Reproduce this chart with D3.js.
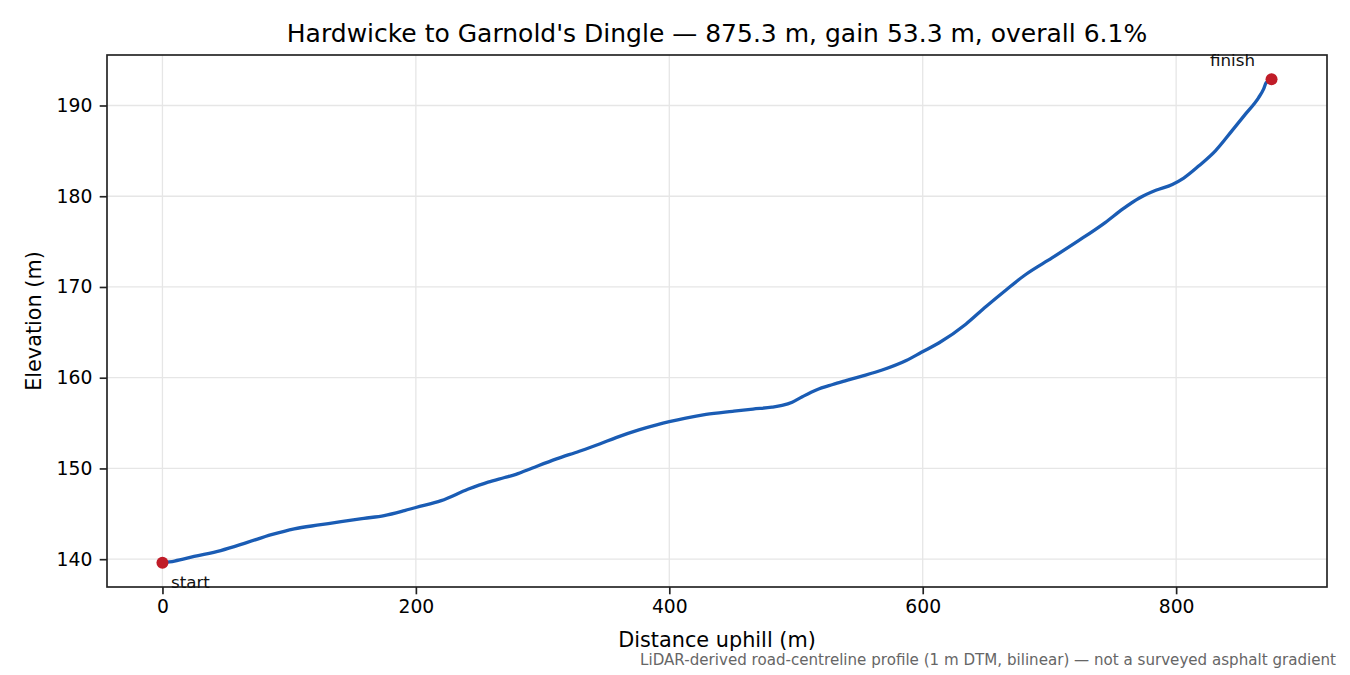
<!DOCTYPE html>
<html>
<head>
    <meta charset="utf-8">
    <script src="https://d3js.org/d3.v7.min.js"></script>
    <style>
        body { margin: 0; background: #fff; }
        text { font-family: "DejaVu Sans", sans-serif; }
    </style>
</head>
<body>
    <div class="chart"></div>

    <script>
        // distance along the road (m) and elevation (m)
        const distance = [0, 9.5, 25, 46, 67, 86, 104, 125, 141, 159, 175, 191, 200, 220, 241, 257, 270, 279,
            292, 311, 329, 345, 358, 376, 390, 400, 413, 429, 450, 466, 481, 489, 497, 505, 516, 529, 540,
            550, 568, 587, 599, 613, 634, 650, 666, 681, 702, 723, 744, 758, 771, 784, 797, 806, 818, 831,
            844, 855, 865, 869, 871, 875.3];
        const elevation = [139.6, 139.8, 140.3, 140.95, 141.85, 142.7, 143.35, 143.8, 144.15, 144.5, 144.8,
            145.35, 145.7, 146.45, 147.7, 148.5, 149.0, 149.35, 150.05, 151.05, 151.9, 152.7, 153.4, 154.25,
            154.8, 155.15, 155.55, 155.95, 156.3, 156.55, 156.75, 156.95, 157.3, 157.9, 158.65, 159.25, 159.7,
            160.1, 160.85, 161.9, 162.8, 163.85, 165.9, 167.85, 169.7, 171.35, 173.2, 175.1, 177.1, 178.6,
            179.8, 180.65, 181.3, 182.0, 183.35, 185.0, 187.2, 189.1, 190.85, 191.8, 192.5, 192.9];

        const xTicks = [0, 200, 400, 600, 800];
        const yTicks = [140, 150, 160, 170, 180, 190];

        const titleText = "Hardwicke to Garnold's Dingle \u2014 875.3 m, gain 53.3 m, overall 6.1%";
        const xLabel = "Distance uphill (m)";
        const yLabel = "Elevation (m)";
        const footnote = "LiDAR-derived road-centreline profile (1 m DTM, bilinear) \u2014 not a surveyed asphalt gradient";

        const W = 1350, H = 675;
        const margin = { top: 55, right: 23, bottom: 88, left: 107 };
        const width = W - margin.left - margin.right,
            height = H - margin.top - margin.bottom;

        const data = distance.map((d, i) => ({ d: d, e: elevation[i] }));

        // matplotlib-ish 5% padding
        const xPad = (d3.max(distance) - d3.min(distance)) * 0.05;
        const yPad = (d3.max(elevation) - d3.min(elevation)) * 0.05;

        const xScale = d3.scaleLinear()
            .domain([d3.min(distance) - xPad, d3.max(distance) + xPad])
            .range([0, width]);
        const yScale = d3.scaleLinear()
            .domain([d3.min(elevation) - yPad, d3.max(elevation) + yPad])
            .range([height, 0]);

        const svg = d3.select(".chart").append("svg")
            .attr("width", W)
            .attr("height", H);

        const g = svg.append("g")
            .attr("transform", `translate(${margin.left},${margin.top})`);

        // grid
        g.append("g").selectAll("line")
            .data(xTicks)
            .enter().append("line")
            .attr("x1", d => xScale(d)).attr("x2", d => xScale(d))
            .attr("y1", 0).attr("y2", height)
            .attr("stroke", "#e6e6e6").attr("stroke-width", 1.3);
        g.append("g").selectAll("line")
            .data(yTicks)
            .enter().append("line")
            .attr("x1", 0).attr("x2", width)
            .attr("y1", d => yScale(d)).attr("y2", d => yScale(d))
            .attr("stroke", "#e6e6e6").attr("stroke-width", 1.3);

        // axes
        const xAxis = d3.axisBottom(xScale).tickValues(xTicks).tickSize(7.3).tickPadding(5).tickFormat(d3.format("d"));
        const yAxis = d3.axisLeft(yScale).tickValues(yTicks).tickSize(7.3).tickPadding(7.3).tickFormat(d3.format("d"));

        const gx = g.append("g")
            .attr("transform", `translate(0,${height})`)
            .call(xAxis);
        const gy = g.append("g").call(yAxis);

        [gx, gy].forEach(a => {
            a.select(".domain").remove();
            a.selectAll(".tick line").attr("stroke", "#222").attr("stroke-width", 1.67);
            a.selectAll(".tick text")
                .attr("fill", "#000")
                .style("font-family", "DejaVu Sans")
                .style("font-size", "18.75px");
        });
        gx.selectAll(".tick text").attr("dy", "0.71em");

        // profile line
        const line = d3.line()
            .x(d => xScale(d.d))
            .y(d => yScale(d.e))
            .curve(d3.curveMonotoneX);

        g.append("path")
            .datum(data)
            .attr("fill", "none")
            .attr("stroke", "#1a5cb4")
            .attr("stroke-width", 3.3)
            .attr("stroke-linejoin", "round")
            .attr("stroke-linecap", "round")
            .attr("d", line);

        // frame
        g.append("rect")
            .attr("width", width).attr("height", height)
            .attr("fill", "none")
            .attr("stroke", "#222")
            .attr("stroke-width", 1.67);

        // start / finish markers
        const ends = [data[0], data[data.length - 1]];
        g.selectAll(".endpt")
            .data(ends)
            .enter().append("circle")
            .attr("class", "endpt")
            .attr("cx", d => xScale(d.d))
            .attr("cy", d => yScale(d.e))
            .attr("r", 6)
            .attr("fill", "#c01c28");

        g.append("text")
            .attr("x", xScale(ends[0].d) + 8.5)
            .attr("y", yScale(ends[0].e) + 25)
            .style("font-size", "16.7px")
            .attr("fill", "#111")
            .text("start");

        g.append("text")
            .attr("x", xScale(ends[1].d) - 16.5)
            .attr("y", yScale(ends[1].e) - 13)
            .attr("text-anchor", "end")
            .style("font-size", "16.7px")
            .attr("fill", "#111")
            .text("finish");

        // titles
        svg.append("text")
            .attr("x", margin.left + width / 2)
            .attr("y", 41.5)
            .attr("text-anchor", "middle")
            .style("font-size", "25px")
            .attr("fill", "#000")
            .text(titleText);

        svg.append("text")
            .attr("x", margin.left + width / 2)
            .attr("y", 647)
            .attr("text-anchor", "middle")
            .style("font-size", "20.8px")
            .attr("fill", "#000")
            .text(xLabel);

        svg.append("text")
            .attr("transform", `translate(41,${margin.top + height / 2}) rotate(-90)`)
            .attr("text-anchor", "middle")
            .style("font-size", "20.8px")
            .attr("fill", "#000")
            .text(yLabel);

        svg.append("text")
            .attr("x", 1336)
            .attr("y", 665)
            .attr("text-anchor", "end")
            .style("font-size", "15.1px")
            .attr("fill", "#666")
            .text(footnote);
    </script>
</body>
</html>
